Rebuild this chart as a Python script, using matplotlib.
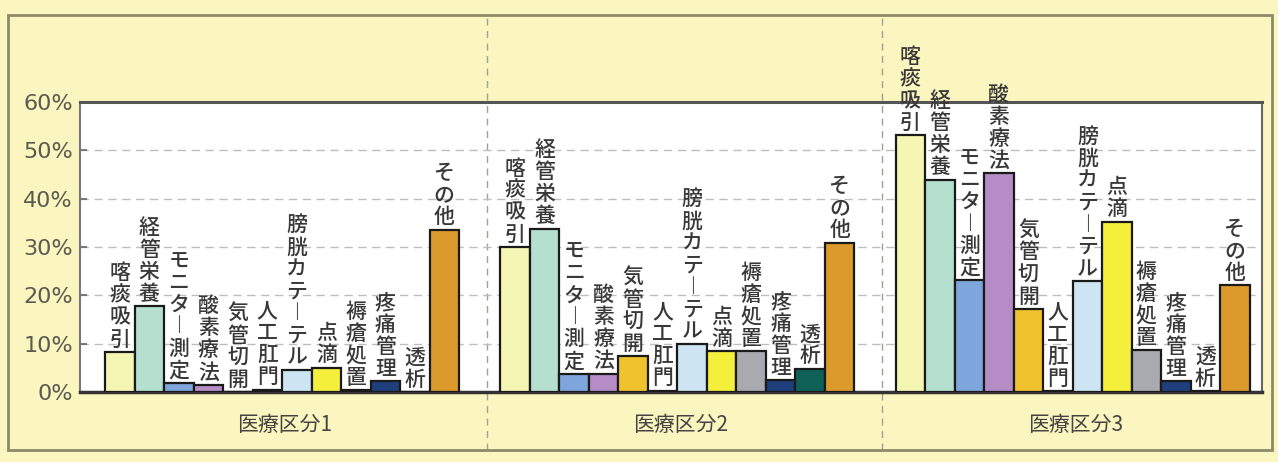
import numpy as np
import matplotlib.pyplot as plt
from matplotlib.patches import Rectangle
import matplotlib.transforms as mtransforms

plt.rcParams['font.family'] = ['Noto Sans CJK JP', 'DejaVu Sans']

groups = ['医療区分1', '医療区分2', '医療区分3']
items = ['喀痰吸引', '経管栄養', 'モニター測定', '酸素療法', '気管切開', '人工肛門',
         '膀胱カテーテル', '点滴', '褥瘡処置', '疼痛管理', '透析', 'その他']
kubun1 = [8.3, 17.7, 1.9, 1.5, 0.0, 0.5, 4.6, 5.0, 0.4, 2.2, 0.0, 33.6]
kubun2 = [30.0, 33.8, 3.8, 3.8, 7.4, 0.3, 10.0, 8.4, 8.4, 2.4, 4.8, 30.9]
kubun3 = [53.1, 43.9, 23.1, 45.3, 17.2, 0.2, 22.9, 35.2, 8.7, 2.2, 0.2, 22.1]
colors = ['#f5f6b4', '#b5dfcf', '#7ea5dc', '#b68cc6', '#efc22e', '#3a3a3a',
          '#cde5f2', '#f4ef3a', '#a9aaaf', '#1f3e7c', '#0d6157', '#dc9a2c']

bg = '#fbf5c0'
fig = plt.figure(figsize=(12.78, 4.62), dpi=100, facecolor=bg)
ax = fig.add_axes([80 / 1278, 70 / 462, 1182 / 1278, 290 / 462])
ax.set_facecolor('white')

stride = 13.4
for g, vals in enumerate([kubun1, kubun2, kubun3]):
    xs = g * stride + np.arange(len(items))
    ax.bar(xs, vals, width=1.0, color=colors, edgecolor='#1a1a1a',
           linewidth=1.6, zorder=3)
    for x, v, name in zip(xs, vals, items):
        # vertical label: one character per line, long vowel mark turned upright
        txt = '\n'.join(name.replace('ー', '︱'))
        ax.annotate(txt, (x, v), xytext=(0, 1), textcoords='offset points',
                    ha='center', va='bottom', fontsize=15, linespacing=1.0,
                    fontweight='medium', color='#383838', zorder=4,
                    annotation_clip=False)
    ax.text(g * stride + 5.6, -0.115, groups[g], transform=ax.get_xaxis_transform(),
            ha='center', va='center', fontsize=15, color='#444444')

# dashed separators between groups, running through the whole panel
trans = mtransforms.blended_transform_factory(ax.transData, ax.transAxes)
for g in range(1, len(groups)):
    xsep = g * stride - 0.95
    ax.plot([xsep, xsep], [-0.2, 1.29], transform=trans, clip_on=False,
            color='#a0a096', lw=1, ls=(0, (5, 4)), zorder=1)

ax.set_xlim(-1.35, 38.72)
ax.set_ylim(0, 60)
ax.set_yticks(range(0, 61, 10))
ax.set_yticklabels([f'{t}%' for t in range(0, 61, 10)], fontsize=16,
                   color='#5a5a50', family='DejaVu Sans')
ax.tick_params(axis='y', direction='in', length=5, width=1.2, color='#666666', pad=5)
ax.set_xticks([])
for t in range(10, 60, 10):
    ax.axhline(t, color='#bdbdbd', lw=1, ls=(0, (6, 4)), zorder=1)

ax.spines['top'].set_color('#555555')
ax.spines['top'].set_linewidth(2.2)
ax.spines['left'].set_color('#777777')
ax.spines['left'].set_linewidth(1.5)
ax.spines['bottom'].set_color('#333333')
ax.spines['bottom'].set_linewidth(2.5)
ax.spines['right'].set_color('#666666')
ax.spines['right'].set_linewidth(1.5)

# outer frame of the panel
fig.patches.append(Rectangle((8 / 1278, 12 / 462), 1264 / 1278, 435 / 462,
                             transform=fig.transFigure, fill=False,
                             edgecolor='#8c8a6a', lw=2))

fig.savefig('out.png', dpi=100, facecolor=bg)
